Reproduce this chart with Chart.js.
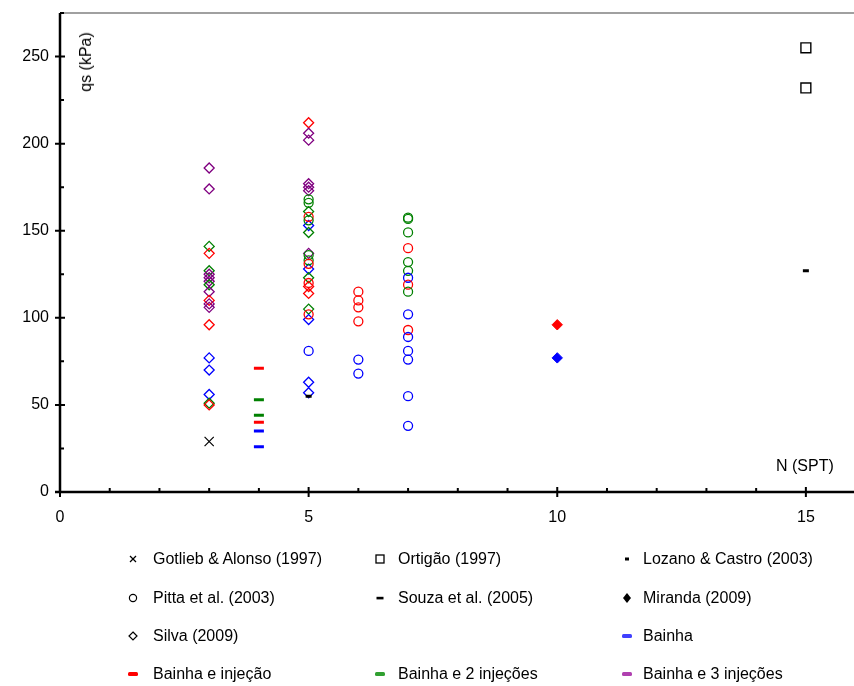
<!DOCTYPE html>
<html>
<head>
<meta charset="utf-8">
<script src="https://cdn.jsdelivr.net/npm/chart.js@4.4.1/dist/chart.umd.min.js"></script>
<style>
  html, body { margin: 0; padding: 0; overflow: hidden; background: #fff; }
  #wrap { position: relative; width: 864px; height: 686px; }
  #c { position: absolute; left: 0; top: 0; }
  .txt { position: absolute; font-family: "Liberation Sans", Arial, sans-serif; font-size: 16px; color: #000; white-space: nowrap; }
  #ylab { left: 86px; top: 62px; transform: translate(-50%, -50%) rotate(-90deg); }
  #xlab { left: 776px; top: 466px; transform: translateY(-50%); }
  .item { position: absolute; height: 20px; }
  .item svg { position: absolute; left: -10px; top: 0; }
  .item span { position: absolute; top: 50%; transform: translateY(-50%); }
</style>
</head>
<body>
<div id="wrap">
  <canvas id="c" width="864" height="686"></canvas>
  <div class="txt" id="ylab">qs (kPa)</div>
  <div class="txt" id="xlab">N (SPT)</div>
  <div id="legend"></div>
</div>
<script>
// ---------------- DATA ----------------
// type codes: B = Bainha, I = Bainha e injeção, I2 = Bainha e 2 injeções, I3 = Bainha e 3 injeções
const xTickLabels = ['0', '5', '10', '15'];
const yTickLabels = ['0', '50', '100', '150', '200', '250'];

const gotliebN = [3];
const gotliebQ = [29];

const ortigaoN = [15, 15];
const ortigaoQ = [255, 232];

const lozanoN = [5, 15];
const lozanoQ = [55, 127];

const pittaN = [5, 5, 5, 5, 5, 5, 5, 5, 5, 5,
                6, 6, 6, 6, 6, 6,
                7, 7, 7, 7, 7, 7, 7, 7, 7, 7, 7, 7, 7, 7, 7, 7];
const pittaQ = [168, 166, 158, 156, 136, 133, 131, 120, 102, 81,
                115, 110, 106, 98, 76, 68,
                157.5, 156.8, 149, 140, 132, 127, 123, 119, 115, 102, 93, 89, 81, 76, 55, 38];
const pittaT = ['I2', 'I2', 'I', 'I2', 'I2', 'I2', 'I', 'I', 'I', 'B',
                'I', 'I', 'I', 'I', 'B', 'B',
                'I2', 'I2', 'I2', 'I', 'I2', 'I2', 'B', 'I', 'I2', 'B', 'I', 'B', 'B', 'B', 'B', 'B'];

const souzaN = [4, 4, 4, 4, 4, 4];
const souzaQ = [71, 53, 44, 40, 35, 26];
const souzaT = ['I', 'I2', 'I2', 'I', 'B', 'B'];

const mirandaN = [10, 10];
const mirandaQ = [96, 77];
const mirandaT = ['I', 'B'];

const silvaN = [3, 3, 3, 3, 3, 3, 3, 3, 3, 3, 3, 3, 3, 3, 3, 3, 3, 3, 3,
                5, 5, 5, 5, 5, 5, 5, 5, 5, 5, 5, 5, 5, 5, 5, 5, 5, 5];
const silvaQ = [186, 174, 141, 137, 127, 125, 123, 121, 119, 115, 110, 108, 106, 96, 77, 70, 56, 51, 50,
                212, 206, 202, 177, 175, 173, 161, 153, 149, 137, 128, 123, 118, 114, 105, 99, 63, 57];
const silvaT = ['I3', 'I3', 'I2', 'I', 'I2', 'I3', 'I3', 'I3', 'I2', 'I3', 'I', 'I3', 'I3', 'I', 'B', 'B', 'B', 'I2', 'I',
                'I', 'I3', 'I3', 'I3', 'I3', 'I3', 'I2', 'B', 'I2', 'I3', 'B', 'I2', 'I', 'I', 'I2', 'B', 'B', 'B'];

const legendLabels = [
  'Gotlieb & Alonso (1997)', 'Ortigão (1997)', 'Lozano & Castro (2003)',
  'Pitta et al. (2003)', 'Souza et al. (2005)', 'Miranda (2009)',
  'Silva (2009)', '', 'Bainha',
  'Bainha e injeção', 'Bainha e 2 injeções', 'Bainha e 3 injeções'
];

// ---------------- STYLE ----------------
const typeColor = { B: '#0000ff', I: '#ff0000', I2: '#008000', I3: '#800080' };
const FONT = { family: '"Liberation Sans", Arial, sans-serif', size: 16 };

function pts(n, q) { return n.map((v, i) => ({ x: v, y: q[i] })); }
function cols(t) { return t.map(k => typeColor[k]); }

const datasets = [
  { label: 'Gotlieb', data: pts(gotliebN, gotliebQ), pointStyle: 'crossRot', pointRadius: 6.5,
    borderColor: '#000', pointBorderColor: '#000', pointBorderWidth: 1.2, backgroundColor: 'transparent' },
  { label: 'Ortigao', data: pts(ortigaoN, ortigaoQ), pointStyle: 'rect', pointRadius: 7,
    pointBorderColor: '#000', pointBorderWidth: 1.4, pointBackgroundColor: 'transparent' },
  { label: 'Lozano', data: pts(lozanoN, lozanoQ), pointStyle: 'line', pointRadius: 3,
    pointBorderColor: '#000', pointBorderWidth: 3 },
  { label: 'Souza', data: pts(souzaN, souzaQ), pointStyle: 'line', pointRadius: 5,
    pointBorderColor: cols(souzaT), pointBorderWidth: 3 },
  { label: 'Pitta', data: pts(pittaN, pittaQ), pointStyle: 'circle', pointRadius: 4.5,
    pointBorderColor: cols(pittaT), pointBorderWidth: 1.3, pointBackgroundColor: 'transparent' },
  { label: 'Silva', data: pts(silvaN, silvaQ), pointStyle: 'rectRot', pointRadius: 5,
    pointBorderColor: cols(silvaT), pointBorderWidth: 1.3, pointBackgroundColor: 'transparent' },
  { label: 'Miranda', data: pts(mirandaN, mirandaQ), pointStyle: 'rectRot', pointRadius: 5.2,
    pointBorderColor: cols(mirandaT), pointBackgroundColor: cols(mirandaT), pointBorderWidth: 1 }
];
datasets.forEach(d => { d.showLine = false; d.pointHoverRadius = d.pointRadius; });

const axesPlugin = {
  id: 'axesPlugin',
  beforeDatasetsDraw(chart) {
    const { ctx, chartArea: a, scales: { x, y } } = chart;
    ctx.save();
    // top border
    ctx.strokeStyle = '#a0a0a0';
    ctx.lineWidth = 2;
    ctx.beginPath(); ctx.moveTo(a.left, a.top); ctx.lineTo(a.right, a.top); ctx.stroke();
    ctx.strokeStyle = '#000';
    ctx.lineWidth = 2.5;
    ctx.beginPath();
    ctx.moveTo(a.left, a.top); ctx.lineTo(a.left, a.bottom);
    ctx.moveTo(a.left - 5, a.bottom); ctx.lineTo(a.right, a.bottom);
    ctx.stroke();
    ctx.lineWidth = 2;
    ctx.beginPath();
    x.ticks.forEach(t => {
      const px = x.getPixelForValue(t.value);
      if (t.value % 5 === 0) { ctx.moveTo(px, a.bottom - 5); ctx.lineTo(px, a.bottom + 5); }
      else { ctx.moveTo(px, a.bottom - 4); ctx.lineTo(px, a.bottom); }
    });
    y.ticks.forEach(t => {
      const py = y.getPixelForValue(t.value);
      if (t.value % 50 === 0) { ctx.moveTo(a.left - 5, py); ctx.lineTo(a.left + 5, py); }
      else { ctx.moveTo(a.left, py); ctx.lineTo(a.left + 4, py); }
    });
    ctx.stroke();
    ctx.restore();
  }
};

function zeroPad(s) { s.paddingTop = 0; s.paddingBottom = 0; s.paddingLeft = 0; s.paddingRight = 0; }

new Chart(document.getElementById('c'), {
  type: 'scatter',
  data: { datasets },
  options: {
    responsive: false,
    animation: false,
    events: [],
    layout: { padding: { top: 13, right: 2, left: 0, bottom: 0 } },
    plugins: { legend: { display: false }, tooltip: { enabled: false } },
    scales: {
      x: {
        type: 'linear', min: 0, max: 16,
        grid: { display: false, drawTicks: false },
        border: { display: false },
        ticks: {
          stepSize: 1, autoSkip: false, maxRotation: 0, padding: 16,
          color: '#000', font: FONT,
          callback: v => (xTickLabels.includes(String(v)) ? String(v) : '')
        },
        afterFit: s => { s.height = 194; zeroPad(s); }
      },
      y: {
        type: 'linear', min: 0, max: 275,
        grid: { display: false, drawTicks: false },
        border: { display: false },
        ticks: {
          stepSize: 25, autoSkip: false, padding: 11,
          color: '#000', font: FONT,
          callback: v => (yTickLabels.includes(String(v)) ? String(v) : '')
        },
        afterFit: s => { s.width = 60; zeroPad(s); }
      }
    }
  },
  plugins: [axesPlugin]
});

// ---------------- LEGEND (HTML) ----------------
const markerSvgs = [
  '<line x1="7" y1="7" x2="13" y2="13" stroke="#000" stroke-width="1.2"/><line x1="13" y1="7" x2="7" y2="13" stroke="#000" stroke-width="1.2"/>',
  '<rect x="6" y="6" width="8" height="8" fill="none" stroke="#000" stroke-width="1.3"/>',
  '<rect x="8" y="8.5" width="4" height="3" fill="#000"/>',
  '<circle cx="10" cy="10" r="3.6" fill="none" stroke="#000" stroke-width="1.2"/>',
  '<rect x="6.5" y="8.8" width="7" height="2.6" fill="#000"/>',
  '<polygon points="10,5 14,10 10,15 6,10" fill="#000"/>',
  '<polygon points="10,6 14,10 10,14 6,10" fill="none" stroke="#000" stroke-width="1.2"/>',
  '',
  '<rect x="5" y="8" width="10" height="4" rx="1.5" fill="#4040ff"/>',
  '<rect x="5" y="8" width="10" height="4" rx="1.5" fill="#ff0000"/>',
  '<rect x="5" y="8" width="10" height="4" rx="1.5" fill="#30a030"/>',
  '<rect x="5" y="8" width="10" height="4" rx="1.5" fill="#b040b0"/>'
];
const colMarkerX = [133, 380, 627];
const colTextX = [153, 398, 643];
const rowY = [559, 598, 636, 674];
const legend = document.getElementById('legend');
legendLabels.forEach((lab, i) => {
  if (!lab) return;
  const c = i % 3, r = Math.floor(i / 3);
  const el = document.createElement('div');
  el.className = 'item';
  el.style.left = colMarkerX[c] + 'px';
  el.style.top = (rowY[r] - 10) + 'px';
  el.innerHTML = '<svg width="20" height="20" viewBox="0 0 20 20">' + markerSvgs[i] + '</svg>' +
    '<span class="txt" style="left:' + (colTextX[c] - colMarkerX[c]) + 'px">' + lab + '</span>';
  legend.appendChild(el);
});
</script>
</body>
</html>
